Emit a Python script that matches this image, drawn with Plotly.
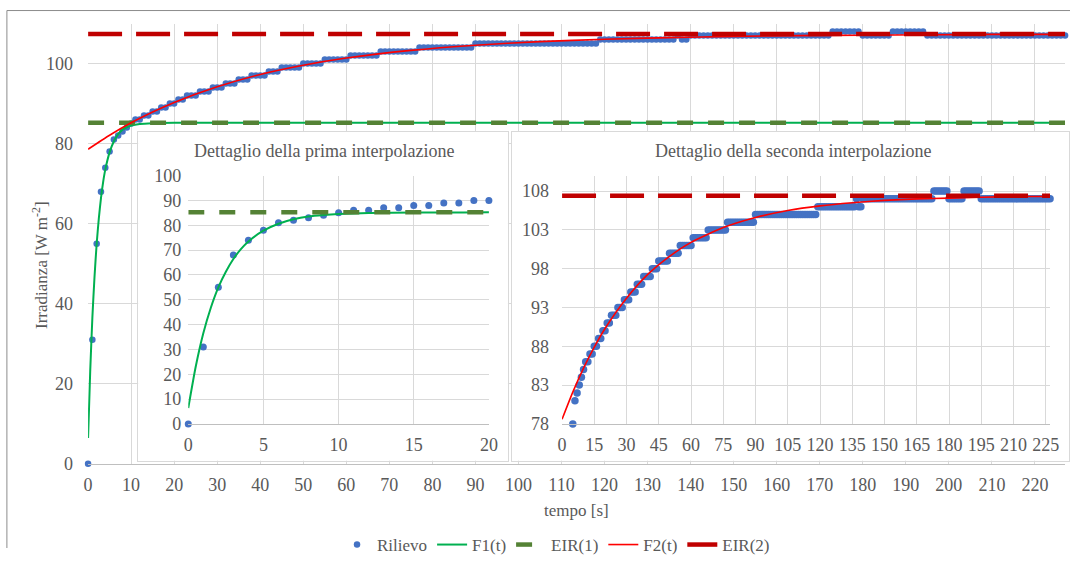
import plotly.graph_objects as go

W, H = 1079, 563

# ---------------- data ----------------
# measured irradiance (Rilievo), one sample per second
first_t = [0, 1, 2, 3, 4, 5, 6, 7, 8, 9, 10]
first_v = [0, 31, 55, 68, 74, 78, 81, 82, 83, 84, 85]
# afterwards the reading is a staircase: level and last second at that level
step_levels = [86, 87, 88, 89, 90, 91, 92, 93, 94, 95, 96, 97, 98, 99, 100,
               101, 102, 103, 104, 105, 106, 107, 106, 107, 108, 107, 108, 107]
step_last_t = [12, 14, 16, 18, 20, 22, 25, 28, 31, 34, 37, 41, 44, 49, 54,
               60, 67, 76, 89, 118, 136, 137, 139, 172, 179, 186, 194, 227]

# first fitted curve F1(t)
f1_t = [0, 0.5, 1, 1.5, 2, 2.5, 3, 3.5, 4, 5, 6, 7, 8, 9, 10, 12, 15, 20, 227]
f1_v = [6.4, 23.2, 36.5, 46.8, 55.0, 61.3, 66.4, 70.4, 73.5, 77.8, 80.6, 82.4,
        83.5, 84.1, 84.5, 84.9, 85.1, 85.2, 85.2]
# second fitted curve F2(t)
f2_t = [0, 5, 10, 15, 20, 30, 40, 50, 60, 75, 90, 105, 120, 135, 150, 165,
        180, 195, 210, 227]
f2_v = [78.6, 82.1, 85.2, 87.9, 90.3, 94.2, 97.3, 99.6, 101.4, 103.3, 104.6,
        105.5, 106.1, 106.5, 106.8, 107.0, 107.1, 107.2, 107.3, 107.3]

eir1 = 85.2
eir2 = 107.4
t_end = 227

# expand the staircase read-off table
ril_t = list(first_t)
ril_v = list(first_v)
prev = first_t[-1]
for lvl, last in zip(step_levels, step_last_t):
    for s in range(prev + 1, last + 1):
        ril_t.append(s)
        ril_v.append(lvl)
    prev = last

# ---------------- styling ----------------
BLUE = "#4472C4"
GREEN = "#00B050"
DKGREEN = "#548235"
RED = "#FF0000"
DKRED = "#C00000"
GRID = "#D9D9D9"
AXL = "#BFBFBF"
TXT = "#595959"
FONT = "Liberation Serif, 'Times New Roman', serif"
DASH_R = "34px,14px"
DASH_G = "16px,15px"

# the photographed page appears slightly inset/scaled; positions below are
# given in reference-picture pixels and mapped back onto the page
SX, OXI = 0.985, 5.1
SY, OYI = 0.962, 9.3


def clamp(v):
    return max(0.0, min(1.0, v))


def px(x):
    return clamp(((x - OXI) / SX) / W)


def py(y):
    return clamp(1 - ((y - OYI) / SY) / H)


fig = go.Figure()

# ---- main chart ----
fig.add_trace(go.Scatter(x=ril_t, y=ril_v, mode="markers", name="Rilievo",
                         marker=dict(color=BLUE, size=6.5), cliponaxis=False))
fig.add_trace(go.Scatter(x=f1_t, y=f1_v, mode="lines", name="F1(t)",
                         line=dict(color=GREEN, width=2, shape="spline", smoothing=0.6)))
fig.add_trace(go.Scatter(x=[0, t_end], y=[eir1, eir1], mode="lines", name="EIR(1)",
                         line=dict(color=DKGREEN, width=4.5, dash=DASH_G)))
fig.add_trace(go.Scatter(x=f2_t, y=f2_v, mode="lines", name="F2(t)",
                         line=dict(color=RED, width=1.6, shape="spline", smoothing=0.6)))
fig.add_trace(go.Scatter(x=[0, t_end], y=[eir2, eir2], mode="lines", name="EIR(2)",
                         line=dict(color=DKRED, width=4.5, dash=DASH_R)))

# ---- inset box placeholders ----
for ax in ("2", "4"):
    fig.add_trace(go.Scatter(x=[None], y=[None], xaxis="x" + ax, yaxis="y" + ax,
                             showlegend=False, hoverinfo="skip"))

# ---- inset 1 ----
in1_t = [t for t in ril_t if t <= 20]
in1_v = ril_v[:len(in1_t)]
fig.add_trace(go.Scatter(x=in1_t, y=in1_v, mode="markers", xaxis="x3", yaxis="y3",
                         marker=dict(color=BLUE, size=7), cliponaxis=False, showlegend=False))
fig.add_trace(go.Scatter(x=f1_t, y=f1_v, mode="lines", xaxis="x3", yaxis="y3",
                         line=dict(color=GREEN, width=2, shape="spline", smoothing=0.6),
                         showlegend=False))
fig.add_trace(go.Scatter(x=[0, 20], y=[eir1, eir1], mode="lines", xaxis="x3", yaxis="y3",
                         line=dict(color=DKGREEN, width=4.5, dash=DASH_G),
                         showlegend=False))

# ---- inset 2 ----
fig.add_trace(go.Scatter(x=ril_t, y=ril_v, mode="markers", xaxis="x5", yaxis="y5",
                         marker=dict(color=BLUE, size=7.5), cliponaxis=False, showlegend=False))
fig.add_trace(go.Scatter(x=f2_t, y=f2_v, mode="lines", xaxis="x5", yaxis="y5",
                         line=dict(color=RED, width=1.6, shape="spline", smoothing=0.6),
                         showlegend=False))
fig.add_trace(go.Scatter(x=[0, t_end], y=[eir2, eir2], mode="lines", xaxis="x5", yaxis="y5",
                         line=dict(color=DKRED, width=4.5, dash=DASH_R), showlegend=False))

tickfont = dict(family=FONT, size=18, color=TXT)


def data_axis(domain, rng, dtick, tick0=0, showline=False, anchor=None, standoff=4):
    d = dict(domain=domain, range=rng, dtick=dtick, tick0=tick0, showgrid=True,
             gridcolor=GRID, gridwidth=1, zeroline=False, showline=showline,
             linecolor=AXL, linewidth=1, tickfont=tickfont, ticks="",
             fixedrange=True, ticklabelstandoff=standoff)
    if anchor:
        d["anchor"] = anchor
    return d


def box_axis(domain, anchor):
    return dict(domain=domain, range=[0, 1], showgrid=False, zeroline=False,
                showticklabels=False, showline=True, mirror=True, linecolor=GRID,
                linewidth=1, anchor=anchor, fixedrange=True, ticks="")


layout = dict(
    width=W, height=H,
    margin=dict(l=0, r=0, t=0, b=0),
    paper_bgcolor="white", plot_bgcolor="white",
    font=dict(family=FONT, color=TXT),
    xaxis=data_axis([px(88), px(1063)], [0, t_end], 10, showline=True, anchor="y", standoff=5),
    yaxis=data_axis([py(466), py(23)], [0, 110], 20, anchor="x", standoff=14),
    xaxis2=box_axis([px(138), px(507)], "y2"),
    yaxis2=box_axis([py(463), py(132)], "x2"),
    xaxis3=data_axis([px(188), px(488)], [0, 20], 5, showline=True, anchor="y3", standoff=4),
    yaxis3=data_axis([py(426), py(176)], [0, 100], 10, anchor="x3", standoff=6),
    xaxis4=box_axis([px(511), min(px(1070), 0.999)], "y4"),
    yaxis4=box_axis([py(463), py(132)], "x4"),
    xaxis5=data_axis([px(561), px(1048)], [0, t_end], 15, showline=True, anchor="y5", standoff=4),
    yaxis5=data_axis([py(426), py(176)], [78, 110], 5, tick0=78, anchor="x5", standoff=12),
    legend=dict(orientation="h", x=px(555), xanchor="center", y=py(548), yanchor="middle",
                font=dict(family=FONT, size=17, color=TXT), itemwidth=30,
                bgcolor="rgba(0,0,0,0)"),
    showlegend=True,
)
fig.update_layout(**layout)


def label(text, x, y, size=18, angle=0):
    return dict(text=text, x=px(x), y=py(y), xref="paper", yref="paper",
                xanchor="center", yanchor="middle", textangle=angle, showarrow=False,
                font=dict(family=FONT, size=size, color=TXT))


annotations = [
    label("Irradianza [W m<sup>-2</sup>]", 40, 266, 17, -90),
    label("tempo [s]", 575, 513, 17),
    label("Dettaglio della prima interpolazione", 323, 151, 18),
    label("Dettaglio della seconda interpolazione", 791, 151, 18),
]
fig.update_layout(annotations=annotations)

# outer chart border (top and left edges visible in the window)
top_y = min(py(8), 0.999)
fig.add_shape(type="line", xref="paper", yref="paper", x0=px(7), x1=1, y0=top_y, y1=top_y,
              line=dict(color="#8C8C8C", width=1))
fig.add_shape(type="line", xref="paper", yref="paper", x0=px(7), x1=px(7), y0=0, y1=top_y,
              line=dict(color="#8C8C8C", width=1))

# place the figure flush with the window's top-left corner
fig.write_html(
    "out.html",
    config={"displayModeBar": False},
    post_script="document.body.style.margin='0';document.body.style.overflow='hidden';",
)
